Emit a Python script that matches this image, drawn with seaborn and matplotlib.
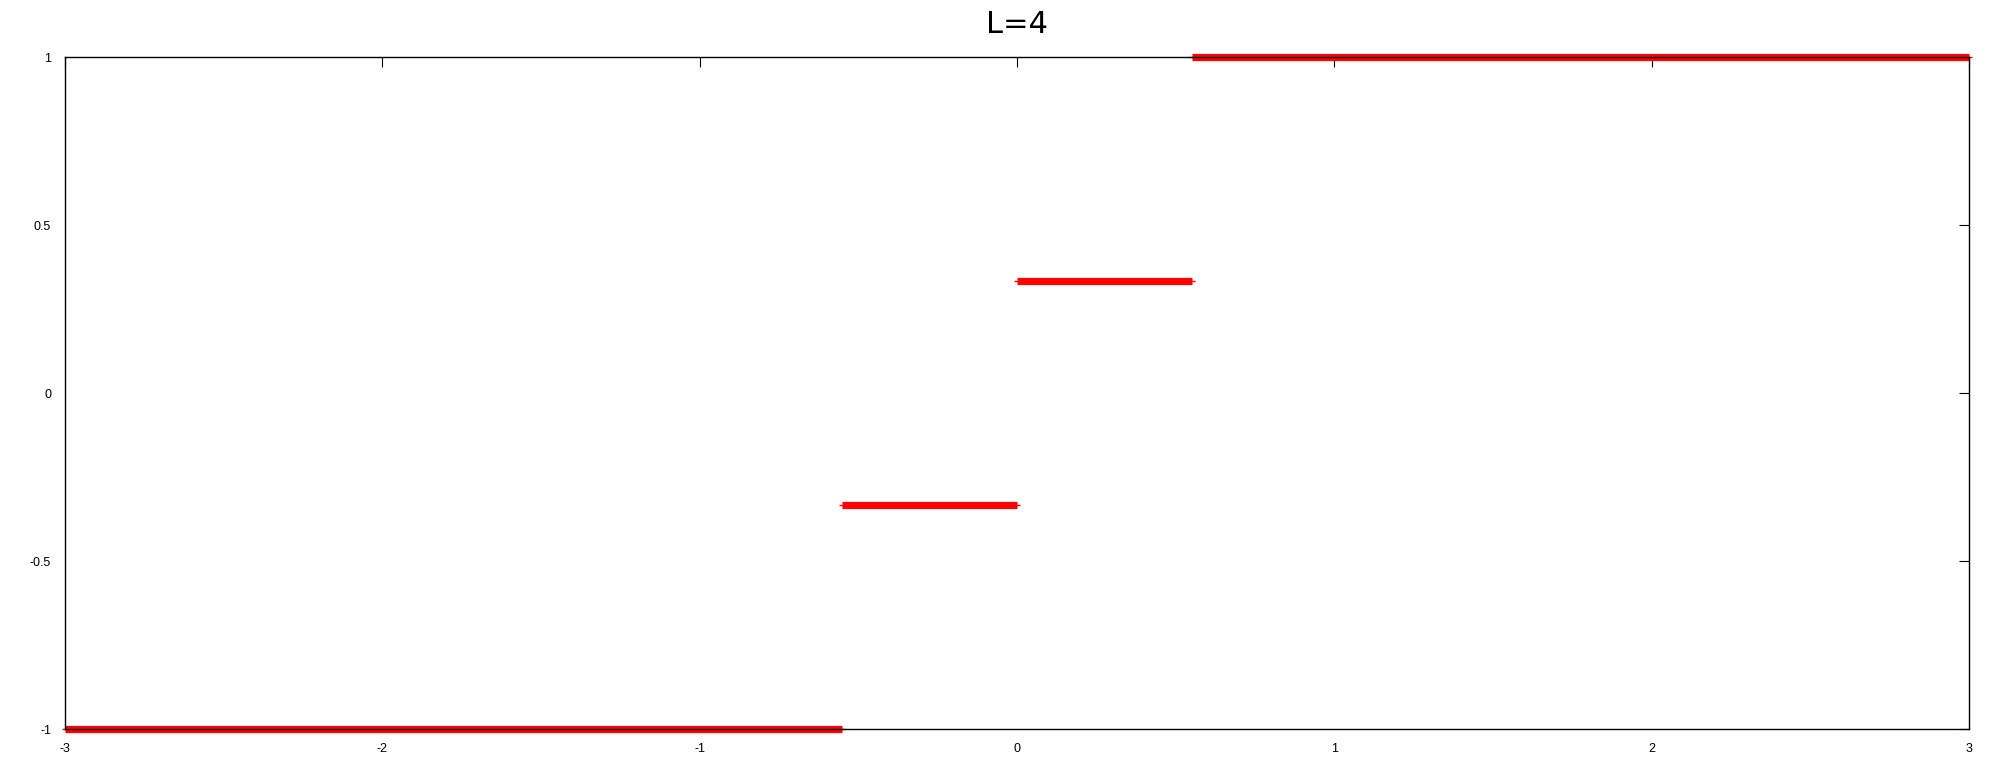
import matplotlib
matplotlib.use("Agg")
import matplotlib.pyplot as plt
import numpy as np
import pandas as pd
import seaborn as sns

# quantizer step edges and output levels (L=4)
edges = [-3.0, -0.55, 0.0, 0.55, 3.0]
levels = [-1.0, -1/3, 1/3, 1.0]
x_ticks = [-3, -2, -1, 0, 1, 2, 3]
y_ticks = [-1, -0.5, 0, 0.5, 1]
y_tick_labels = ["-1", "-0.5", "0", "0.5", "1"]

# one row per segment end point
rows = []
for i, lev in enumerate(levels):
    rows.append({"x": edges[i], "y": lev, "seg": i})
    rows.append({"x": edges[i + 1], "y": lev, "seg": i})
df = pd.DataFrame(rows)

sns.set_style("white")
plt.rcParams['font.family'] = ['Liberation Sans', 'DejaVu Sans']

fig = plt.figure(figsize=(20, 7.68), dpi=100)
ax = fig.add_axes([65/2000, 1 - 729/768, (1969-65)/2000, (729-57)/768])

sns.lineplot(data=df, x="x", y="y", units="seg", estimator=None, color="red",
             lw=5.2, solid_capstyle="butt", marker="_", markersize=4.5,
             markeredgewidth=1, markeredgecolor="red", clip_on=False, ax=ax)

ax.set_xlim(-3, 3)
ax.set_ylim(-1, 1)
ax.set_xticks(x_ticks)
ax.set_xticklabels([str(t) for t in x_ticks])
ax.set_yticks(y_ticks)
ax.set_yticklabels(y_tick_labels)
ax.set_xlabel("")
ax.set_ylabel("")
ax.tick_params(direction="in", length=7, width=0.8, labelsize=9, pad=10,
               top=True, right=True, colors="black")
for s in ax.spines.values():
    s.set_color("black")
    s.set_linewidth(1)
# gnuplot title is wide, DejaVu is closer in shape
ax.set_title("L=4", fontsize=22, pad=17, family="DejaVu Sans", color="black")

fig.savefig("out.png", dpi=100)
